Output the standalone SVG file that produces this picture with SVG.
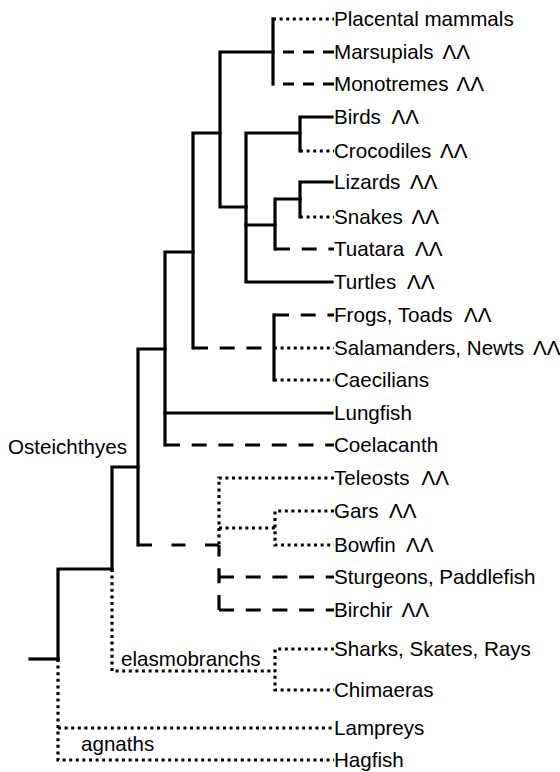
<svg xmlns="http://www.w3.org/2000/svg" width="560" height="772" viewBox="0 0 560 772">
<style>
text{font-family:"Liberation Sans",Arial,sans-serif;font-size:20.6px;fill:#000}
.s,.d,.o{fill:none;stroke:#000;stroke-width:3.2}
.s{stroke-linejoin:miter;stroke-linecap:square}
.d{stroke-dasharray:15 11.7}
.o{stroke-dasharray:3 3.6}
.m{stroke-dasharray:11 9}
</style>
<rect width="560" height="772" fill="#fff"/>
<g id="connectors">
<g class="s">
<path d="M273 19V84"/>
<path d="M273 52H220V207H246"/>
<path d="M193 348V133H220"/>
<path d="M332 117H300V151"/>
<path d="M300 133H246V282H332"/>
<path d="M246 225H275"/>
<path d="M275 249V199H300"/>
<path d="M332 182H300V217"/>
<path d="M274 315V380"/>
<path d="M193 252H165V445"/>
<path d="M165 413H332"/>
<path d="M165 349H138V545"/>
<path d="M138 467H112V569"/>
<path d="M112 569H58V659"/>
<path d="M30 659H58"/>
</g>
<g class="d">
<path class="m" d="M334 52H273"/>
<path class="m" d="M334 84H273"/>
<path d="M275 249H334"/>
<path d="M274 315H334"/>
<path d="M193 348H274"/>
<path d="M165 445H334"/>
<path d="M138 545H219" style="stroke-dasharray:14 19.5"/>
<path d="M219 610V545"/>
<path d="M219 610H334"/>
<path d="M219 577H334"/>
</g>
<g class="o">
<path d="M273 19H334"/>
<path d="M300 151H334"/>
<path d="M300 217H334"/>
<path d="M274 348H334"/>
<path d="M274 380H334"/>
<path d="M334 478H219V545"/>
<path d="M219 528H275"/>
<path d="M334 511H275V545H334"/>
<path d="M112 569V671H275"/>
<path d="M334 649H275V690H334"/>
<path d="M58 659V760H334"/>
<path d="M58 728H334"/>
</g>
</g>
<g id="placental"><text x="334" y="26">Placental mammals</text></g>
<g id="marsupials"><text x="334" y="59">Marsupials<tspan x="442.5">ΛΛ</tspan></text></g>
<g id="monotremes"><text x="334" y="91">Monotremes<tspan x="456.5">ΛΛ</tspan></text></g>
<g id="birds"><text x="334" y="124">Birds<tspan x="391.5">ΛΛ</tspan></text></g>
<g id="crocodiles"><text x="334" y="158">Crocodiles<tspan x="440">ΛΛ</tspan></text></g>
<g id="lizards"><text x="334" y="189">Lizards<tspan x="410">ΛΛ</tspan></text></g>
<g id="snakes"><text x="334" y="224">Snakes<tspan x="411.5">ΛΛ</tspan></text></g>
<g id="tuatara"><text x="334" y="256">Tuatara<tspan x="415">ΛΛ</tspan></text></g>
<g id="turtles"><text x="334" y="289">Turtles<tspan x="407">ΛΛ</tspan></text></g>
<g id="frogs"><text x="334" y="322">Frogs, Toads<tspan x="464">ΛΛ</tspan></text></g>
<g id="salamanders"><text x="334" y="355">Salamanders, Newts<tspan x="533">ΛΛ</tspan></text></g>
<g id="caecilians"><text x="334" y="387">Caecilians</text></g>
<g id="lungfish"><text x="334" y="420">Lungfish</text></g>
<g id="coelacanth"><text x="334" y="452">Coelacanth</text></g>
<g id="teleosts"><text x="334" y="485">Teleosts<tspan x="421.5">ΛΛ</tspan></text></g>
<g id="gars"><text x="334" y="518">Gars<tspan x="389">ΛΛ</tspan></text></g>
<g id="bowfin"><text x="334" y="552">Bowfin<tspan x="406">ΛΛ</tspan></text></g>
<g id="sturgeons"><text x="334" y="584">Sturgeons, Paddlefish</text></g>
<g id="birchir"><text x="334" y="617">Birchir<tspan x="401.5">ΛΛ</tspan></text></g>
<g id="sharks"><text x="334" y="656">Sharks, Skates, Rays</text></g>
<g id="chimaeras"><text x="334" y="697">Chimaeras</text></g>
<g id="lampreys"><text x="334" y="735">Lampreys</text></g>
<g id="hagfish"><text x="334" y="767">Hagfish</text></g>
<g id="osteichthyes"><text x="8" y="454">Osteichthyes</text></g>
<g id="elasmobranchs"><text x="121" y="666">elasmobranchs</text></g>
<g id="agnaths"><text x="81" y="751">agnaths</text></g>
</svg>
